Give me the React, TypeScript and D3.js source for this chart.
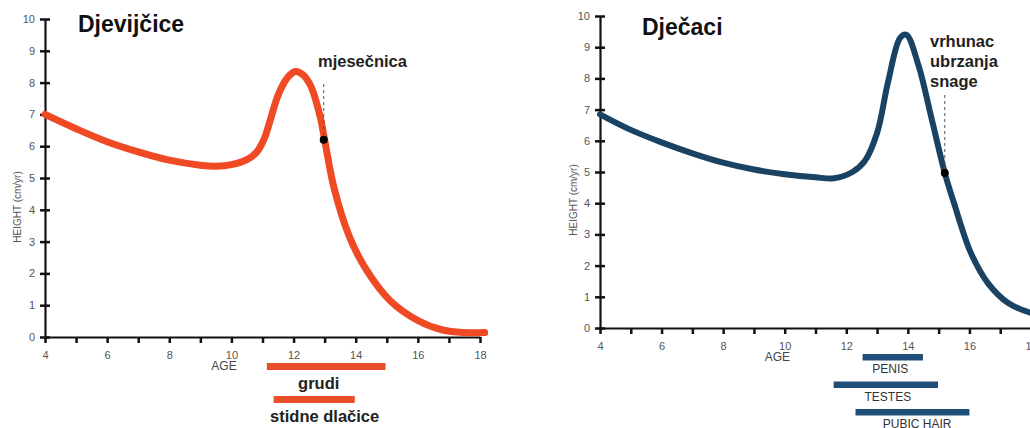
import { useEffect, useRef } from "react";
import * as d3 from "d3";

const FONT = "'Liberation Sans', Arial, Helvetica, sans-serif";

// growth velocity curves [age, cm/yr]
const GIRLS_CURVE: [number, number][] = [
  [4, 7.0], [5, 6.55], [6, 6.14], [7, 5.82], [8, 5.56], [9, 5.4], [9.5, 5.37],
  [10, 5.42], [10.5, 5.58], [10.8, 5.8], [11.05, 6.22], [11.25, 6.82], [11.5, 7.6],
  [11.8, 8.15], [12.05, 8.35], [12.3, 8.25], [12.55, 7.9], [12.85, 6.95], [13.0, 6.2],
  [13.3, 4.7], [13.8, 3.15], [14.35, 2.1], [15.1, 1.15], [16.0, 0.52], [16.8, 0.22],
  [17.5, 0.14], [18.15, 0.14],
];
const BOYS_CURVE: [number, number][] = [
  [4, 6.85], [5, 6.35], [6, 5.95], [7, 5.6], [8, 5.3], [9, 5.08], [10, 4.93], [11, 4.83],
  [11.6, 4.8], [12.2, 5.0], [12.6, 5.35], [13.0, 6.25], [13.35, 7.85], [13.75, 9.3],
  [13.95, 9.4], [14.35, 8.4], [14.75, 6.8], [15.2, 4.97], [15.5, 4.0], [16.05, 2.4],
  [16.6, 1.44], [17.26, 0.8], [18, 0.48],
];

// pubertal stage bars: [start age, end age, label, label center age]
const GIRLS_BARS: [number, number, string, number][] = [
  [11.14, 14.96, "grudi", 12.81],
  [11.36, 13.97, "stidne dlačice", 13.0],
];
const BOYS_BARS: [number, number, string, number][] = [
  [12.53, 14.49, "PENIS", 13.43],
  [11.59, 14.98, "TESTES", 13.35],
  [12.3, 16.0, "PUBIC HAIR", 14.3],
];

const X_TICKS = d3.range(4, 19);
const Y_TICKS = d3.range(0, 11);

// marker point [age, value] and annotation lines
const GIRLS_MARK: [number, number] = [12.97, 6.2];
const GIRLS_NOTE = ["mjesečnica"];
const BOYS_MARK: [number, number] = [15.2, 4.97];
const BOYS_NOTE = ["vrhunac", "ubrzanja", "snage"];

type Panel = {
  title: string;
  titleX: number;
  titleY: number;
  xRange: [number, number];
  yRange: [number, number];
  curve: [number, number][];
  color: string;
  barColor: string;
  width: number;
  bars: [number, number, string, number][];
  barY0: number;
  barStep: number;
  barH: number;
  labelBold: boolean;
  labelSize: number;
  labelDy: number;
  mark: [number, number];
  note: string[];
  noteX: number;
  noteY: number;
  dashTop: number;
  yLabelX: number;
  yLabelY: number;
};

function drawPanel(svg: d3.Selection<SVGSVGElement, unknown, null, undefined>, p: Panel) {
  const x = d3.scaleLinear().domain([4, 18]).range(p.xRange);
  const y = d3.scaleLinear().domain([0, 10]).range(p.yRange);
  const g = svg.append("g");

  // axes
  const xa = g.append("g")
    .attr("transform", `translate(0,${p.yRange[0]})`)
    .call(d3.axisBottom(x).tickValues(X_TICKS).tickSize(6).tickSizeOuter(0)
      .tickFormat(d => (+d % 2 === 0 ? String(d) : "")));
  xa.select(".domain").attr("stroke", "#111").attr("stroke-width", 2.2);
  xa.selectAll(".tick line").attr("stroke", "#111").attr("stroke-width", 2.5);
  xa.selectAll(".tick text").attr("y", 14).attr("font-size", 11).attr("fill", "#555").attr("font-family", FONT);

  const ya = g.append("g")
    .attr("transform", `translate(${p.xRange[0]},0)`)
    .call(d3.axisLeft(y).tickValues(Y_TICKS).tickSize(5).tickSizeOuter(0));
  ya.select(".domain").attr("stroke", "#111").attr("stroke-width", 2.2);
  ya.selectAll(".tick line").attr("x1", 5).attr("x2", -5).attr("stroke", "#111").attr("stroke-width", 2.5);
  ya.selectAll(".tick text").attr("x", -10).attr("font-size", 11).attr("fill", "#555").attr("font-family", FONT);

  // axis titles
  g.append("text")
    .attr("x", x(9.76)).attr("y", p.yRange[0] + 33)
    .attr("text-anchor", "middle").attr("font-size", 12).attr("fill", "#444").attr("font-family", FONT)
    .text("AGE");
  g.append("text")
    .attr("transform", `translate(${p.yLabelX},${p.yLabelY}) rotate(-90)`)
    .attr("text-anchor", "middle").attr("font-size", 10).attr("fill", "#555").attr("font-family", FONT)
    .text("HEIGHT (cm/yr)");

  // title
  g.append("text")
    .attr("x", p.titleX).attr("y", p.titleY)
    .attr("font-size", 23).attr("font-weight", "bold").attr("fill", "#111").attr("font-family", FONT)
    .text(p.title);

  // curve
  const line = d3.line<[number, number]>()
    .x(d => x(d[0])).y(d => y(d[1]))
    .curve(d3.curveCatmullRom.alpha(0.5));
  g.append("path")
    .attr("d", line(p.curve))
    .attr("fill", "none").attr("stroke", p.color).attr("stroke-width", p.width)
    .attr("stroke-linecap", "round").attr("stroke-linejoin", "round");

  // marker + dashed leader
  const mx = x(p.mark[0]), my = y(p.mark[1]);
  g.append("line")
    .attr("x1", mx).attr("x2", mx).attr("y1", p.dashTop).attr("y2", my)
    .attr("stroke", "#555").attr("stroke-width", 1).attr("stroke-dasharray", "3,3");
  g.append("circle").attr("cx", mx).attr("cy", my).attr("r", 4).attr("fill", "#000");

  g.append("g").selectAll("text").data(p.note).join("text")
    .attr("x", p.noteX).attr("y", (_, i) => p.noteY + i * 20)
    .attr("font-size", 16.5).attr("font-weight", "bold").attr("fill", "#222").attr("font-family", FONT)
    .text(d => d);

  // stage bars
  const bg = g.append("g");
  bg.selectAll("rect").data(p.bars).join("rect")
    .attr("x", d => x(d[0])).attr("width", d => x(d[1]) - x(d[0]))
    .attr("y", (_, i) => p.barY0 + i * p.barStep).attr("height", p.barH)
    .attr("fill", p.barColor);
  bg.selectAll("text").data(p.bars).join("text")
    .attr("x", d => x(d[3])).attr("y", (_, i) => p.barY0 + i * p.barStep + p.labelDy)
    .attr("text-anchor", "middle")
    .attr("font-size", p.labelSize).attr("font-weight", p.labelBold ? "bold" : "normal")
    .attr("fill", p.labelBold ? "#222" : "#333").attr("font-family", FONT)
    .text(d => d[2]);
}

export default function App() {
  const ref = useRef<SVGSVGElement>(null);

  useEffect(() => {
    const svg = d3.select(ref.current!);
    svg.selectAll("*").remove();

    drawPanel(svg, {
      title: "Djevijčice", titleX: 78, titleY: 32,
      xRange: [45, 480], yRange: [337, 19],
      curve: GIRLS_CURVE, color: "#ef4a23", barColor: "#ea4f2b", width: 7,
      bars: GIRLS_BARS, barY0: 363, barStep: 33, barH: 7,
      labelBold: true, labelSize: 16.5, labelDy: 26,
      mark: GIRLS_MARK, note: GIRLS_NOTE, noteX: 318, noteY: 67, dashTop: 84,
      yLabelX: 21, yLabelY: 207,
    });

    drawPanel(svg, {
      title: "Dječaci", titleX: 642, titleY: 35,
      xRange: [600, 1031], yRange: [328, 16],
      curve: BOYS_CURVE, color: "#1a4262", barColor: "#1f4f78", width: 6,
      bars: BOYS_BARS, barY0: 354, barStep: 27.5, barH: 6.5,
      labelBold: false, labelSize: 12, labelDy: 19,
      mark: BOYS_MARK, note: BOYS_NOTE, noteX: 930, noteY: 47, dashTop: 95,
      yLabelX: 577, yLabelY: 200,
    });
  }, []);

  return (
    <svg
      ref={ref}
      width={1030}
      height={428}
      style={{ position: "absolute", left: 0, top: 0, background: "#fff" }}
    />
  );
}
